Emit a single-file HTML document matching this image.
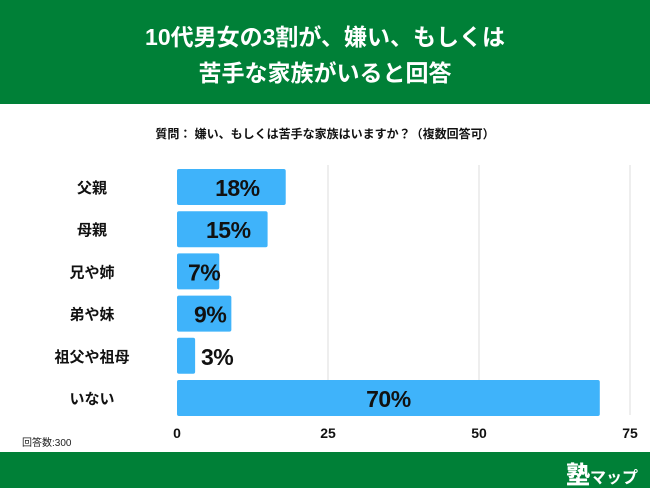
<!DOCTYPE html>
<html><head><meta charset="utf-8"><style>
body{margin:0;width:650px;height:488px;overflow:hidden;background:#fff;font-family:"Liberation Sans","Noto Sans CJK JP",sans-serif;position:relative}
#hdr{position:absolute;left:0;top:0;width:650px;height:104px;background:#008037;color:#fff;font-weight:bold;font-size:23px;text-align:center;line-height:36px;padding-top:19px;box-sizing:border-box}
#ftr{position:absolute;left:0;top:452px;width:650px;height:36px;background:#008037}
#logo{position:absolute;right:12px;top:3px;color:#fff;font-weight:bold;font-size:16px}
#logo b{font-size:24px}
#q{position:absolute;left:0;width:650px;top:125px;text-align:center;font-size:12px;font-weight:bold;color:#111}
#n{position:absolute;left:22px;top:434px;font-size:10px;color:#222}
</style></head><body>
<div id="hdr">10代男女の3割が、嫌い、もしくは<br>苦手な家族がいると回答</div>
<div id="q">質問： 嫌い、もしくは苦手な家族はいますか？（複数回答可）</div>
<svg id="c" width="650" height="488" style="position:absolute;left:0;top:0"></svg>
<div id="n">回答数:300</div>
<div id="ftr"><div id="logo"><b>塾</b>マップ</div></div>
<script>
const categories=["父親","母親","兄や姉","弟や妹","祖父や祖母","いない"];
const values=[18,15,7,9,3,70];
const ticks=[0,25,50,75];
const ns="http://www.w3.org/2000/svg";
const svg=document.getElementById('c');
const x=v=>177+v*(453/75);
const yc=i=>187+i*42.2;
function mk(t,a){const e=document.createElementNS(ns,t);for(const k in a)e.setAttribute(k,a[k]);svg.appendChild(e);return e;}
ticks.forEach(t=>{
 if(t>0){const l=mk('line',{x1:x(t),x2:x(t),y1:165,y2:415,stroke:'#ddd','stroke-width':1});
 
 }
 const tx=mk('text',{x:x(t),y:438,'text-anchor':'middle','font-size':14,'font-weight':'bold',fill:'#111'});
 tx.textContent=t;
 
 
});
categories.forEach((c,i)=>{
 const y=yc(i);
 const lb=mk('text',{x:92,y:y+6,'text-anchor':'middle','font-size':15,'font-weight':'bold',fill:'#111'});
 lb.textContent=c;
 
 
 const w=x(values[i])-x(0);
 const r=mk('rect',{x:x(0),y:y-18,width:w,height:36,rx:2,fill:'#3fb3fa'});
 
 
 const inside=w>35;
 const vt=mk('text',{x:inside?x(0)+w/2+(values[i]<30?6:0):x(values[i])+22,y:y+9,'text-anchor':'middle','font-size':23,'font-weight':'bold',fill:'#111','letter-spacing':'-0.5'});
 vt.textContent=values[i]+'%';
 
 
});
</script>
</body></html>
